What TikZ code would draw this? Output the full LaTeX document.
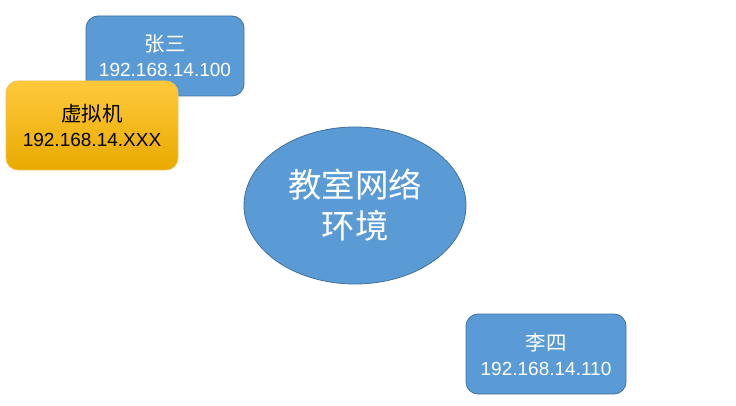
\documentclass[tikz,border=0pt]{standalone}
\usepackage{fontspec}
\setmainfont{Liberation Sans}
\newfontfamily\cjk{Noto Sans CJK SC}
\usetikzlibrary{shapes.geometric}
\definecolor{boxblue}{HTML}{5B9BD5}
\definecolor{boxedge}{HTML}{41719C}
\definecolor{goldtop}{HTML}{FFC93C}
\definecolor{goldbot}{HTML}{E8AA00}
\definecolor{goldedge}{HTML}{F2C14E}
\newcommand{\cjkbig}[1]{{\cjk\fontsize{20.5}{25}\selectfont #1}}
\tikzset{
  hostbox/.style={draw=boxedge, line width=0.8pt, fill=boxblue, rounded corners=12pt,
    text=white, align=center, font=\fontsize{19}{25}\selectfont, inner sep=0pt},
  vmbox/.style={draw=goldedge, line width=0.8pt, top color=goldtop, bottom color=goldbot,
    rounded corners=12pt, text=black, align=center, font=\fontsize{19}{25}\selectfont, inner sep=0pt},
  netell/.style={ellipse, draw=boxedge, line width=0.8pt, fill=boxblue, text=white,
    align=center, font=\cjk\fontsize{33.5}{41}\selectfont, inner sep=0pt}
}
\begin{document}
\begin{tikzpicture}[x=1pt,y=-1pt]
\useasboundingbox (0,0) rectangle (736,406);
\node[hostbox, minimum width=158pt, minimum height=80pt] (zs) at (165,56) {\cjkbig{张三}\\192.168.14.100};
\node[vmbox, minimum width=172pt, minimum height=89pt] (vm) at (92,125.5) {\cjkbig{虚拟机}\\192.168.14.XXX};
\node[netell, minimum width=222pt, minimum height=157pt] (net) at (355,205.5) {教室网络\\环境};
\node[hostbox, minimum width=160pt, minimum height=80pt] (ls) at (546,354) {\cjkbig{李四}\\192.168.14.110};
\end{tikzpicture}
\end{document}
